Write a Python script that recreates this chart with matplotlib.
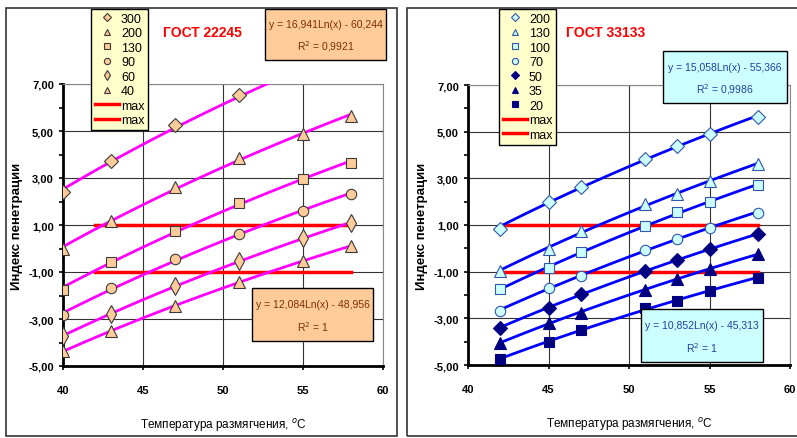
import numpy as np
import matplotlib
matplotlib.use('Agg')
from matplotlib import pyplot as plt
from matplotlib import patches
from matplotlib.lines import Line2D
from matplotlib.ticker import FuncFormatter, FixedLocator

plt.rcParams['font.family'] = ['Liberation Sans', 'DejaVu Sans']

# --- left chart (GOST 22245) ---
left_x = [40, 43, 47, 51, 55, 58]
left_labels = ['300', '200', '130', '90', '60', '40']
left_300 = [2.40, 3.74, 5.26, 6.53, 7.60, 8.50]
left_200 = [0.00, 1.18, 2.60, 3.84, 4.87, 5.65]
left_130 = [-1.75, -0.56, 0.76, 1.94, 2.96, 3.64]
left_90 = [-2.83, -1.69, -0.45, 0.62, 1.61, 2.32]
left_60 = [-3.71, -2.79, -1.61, -0.52, 0.43, 1.09]
left_40 = [-4.38, -3.51, -2.43, -1.44, -0.53, 0.11]
left_max_x = [42, 58]
left_eq_top = ['y = 16,941Ln(x) - 60,244', 'R$^2$ = 0,9921']
left_eq_bot = ['y = 12,084Ln(x) - 48,956', 'R$^2$ = 1']

# --- right chart (GOST 33133) ---
right_x = [42, 45, 47, 51, 53, 55, 58]
right_labels = ['200', '130', '100', '70', '50', '35', '20']
right_200 = [0.85, 1.99, 2.65, 3.85, 4.40, 4.90, 5.61]
right_130 = [-0.97, -0.01, 0.75, 1.89, 2.32, 2.89, 3.61]
right_100 = [-1.76, -0.83, -0.15, 0.96, 1.54, 1.99, 2.71]
right_70 = [-2.69, -1.68, -1.18, -0.07, 0.42, 0.89, 1.51]
right_50 = [-3.40, -2.54, -1.97, -0.97, -0.50, -0.04, 0.61]
right_35 = [-4.04, -3.21, -2.76, -1.78, -1.30, -0.87, -0.25]
right_20 = [-4.73, -4.02, -3.50, -2.54, -2.26, -1.83, -1.25]
right_max_x = [42, 58]
right_eq_top = ['y = 15,058Ln(x) - 55,366', 'R$^2$ = 0,9986']
right_eq_bot = ['y = 10,852Ln(x) - 45,313', 'R$^2$ = 1']

limits = [1, -1]
y_major = [-5, -3, -1, 1, 3, 5, 7]
y_minor = [-4, -2, 0, 2, 4, 6]
x_major = [40, 45, 50, 55, 60]

W, H = 797, 439
fig = plt.figure(figsize=(W / 100, H / 100), dpi=100)


def px_rect(x0, y0, x1, y1):
    return (x0 / W, 1 - y1 / H, (x1 - x0) / W, (y1 - y0) / H)


def comma(v, pos):
    return ('%.2f' % v).replace('.', ',')


def setup_axes(ax):
    ax.set_xlim(40, 60)
    ax.set_ylim(-5, 7)
    ax.xaxis.set_major_locator(FixedLocator(x_major))
    ax.yaxis.set_major_locator(FixedLocator(y_major))
    ax.yaxis.set_minor_locator(FixedLocator(y_minor))
    ax.yaxis.set_major_formatter(FuncFormatter(comma))
    ax.grid(True, which='major', color='#333333', lw=0.8)
    ax.set_axisbelow(True)
    for s in ('top', 'right'):
        ax.spines[s].set_color('#888888')
        ax.spines[s].set_linewidth(0.8)
    for s in ('left', 'bottom'):
        ax.spines[s].set_color('black')
        ax.spines[s].set_linewidth(2)
    ax.tick_params(axis='both', which='both', direction='out', length=3, width=1.2,
                   labelsize=8, colors='black')
    ax.tick_params(axis='x', pad=11)
    for lab in ax.get_xticklabels() + ax.get_yticklabels():
        lab.set_fontweight('bold')
    ax.set_xlabel('Температура размягчения, $^o$C', fontsize=8.5, labelpad=15)
    ax.set_ylabel('Индекс пенетрации', fontsize=9.5, fontweight='bold', labelpad=4)


def draw(ax, xs, series, styles, line_color):
    handles = []
    xfit = np.linspace(min(xs), max(xs), 100)
    for ys in series:
        k, b = np.polyfit(np.log(xs), ys, 1)
        ax.plot(xfit, k * np.log(xfit) + b, color=line_color, lw=2, zorder=3)
    for ys, st in zip(series, styles):
        h, = ax.plot(xs, ys, ls='none', zorder=4, **st)
        handles.append(h)
    return handles


def make_legend(ax, handles, labels, x0, y0):
    red = Line2D([], [], color='#FF0000', lw=2.5)
    leg = ax.legend(handles + [red, red], labels + ['max', 'max'],
                    loc='upper left', bbox_to_anchor=(x0 / W, 1 - y0 / H),
                    bbox_transform=fig.transFigure, fontsize=9, markerscale=0.6,
                    handlelength=1.9, handletextpad=0.2, labelspacing=0.2,
                    borderpad=0.3, borderaxespad=0, frameon=True, fancybox=False)
    leg.get_frame().set_facecolor('#FFFFCC')
    leg.get_frame().set_edgecolor('black')
    leg.get_frame().set_alpha(1)
    leg.get_frame().set_linewidth(1)
    leg.set_zorder(10)
    return leg


# left panel
fig.patches.append(patches.Rectangle(px_rect(6, 9, 397, 437)[:2], 391 / W, 428 / H,
                                     transform=fig.transFigure, fill=False,
                                     edgecolor='#333333', lw=1.2))
axl = fig.add_axes(px_rect(63, 85, 383, 367))
setup_axes(axl)
tan = '#FFCC99'
ed = '#3a3a3a'
lstyles = [
    dict(marker='D', ms=7, mfc=tan, mec=ed, mew=0.8),
    dict(marker='^', ms=8, mfc=tan, mec=ed, mew=0.8),
    dict(marker='s', ms=7, mfc=tan, mec=ed, mew=0.8),
    dict(marker='o', ms=7.5, mfc=tan, mec=ed, mew=0.8),
    dict(marker='d', ms=9, mfc=tan, mec=ed, mew=0.8),
    dict(marker='^', ms=8, mfc=tan, mec=ed, mew=0.8),
]
lh = draw(axl, left_x, [left_300, left_200, left_130, left_90, left_60, left_40],
          lstyles, '#FF00FF')
for yv in limits:
    axl.plot(left_max_x, [yv, yv], color='#FF0000', lw=2.5, zorder=2.5)
make_legend(axl, lh, left_labels, 91, 10)
fig.text(202 / W, 1 - 33 / H, 'ГОСТ 22245', color='#FF0000', fontsize=10,
         fontweight='bold', ha='center', va='center')

# right panel
fig.patches.append(patches.Rectangle(px_rect(407, 9, 810, 437)[:2], 403 / W, 428 / H,
                                     transform=fig.transFigure, fill=False,
                                     edgecolor='#333333', lw=1.2))
axr = fig.add_axes(px_rect(468, 86, 790, 366))
setup_axes(axr)
cyan = '#CCFFFF'
ced = '#3355AA'
navy = '#000080'
rstyles = [
    dict(marker='D', ms=7, mfc=cyan, mec=ced, mew=0.8),
    dict(marker='^', ms=8, mfc=cyan, mec=ced, mew=0.8),
    dict(marker='s', ms=7, mfc=cyan, mec=ced, mew=0.8),
    dict(marker='o', ms=7.5, mfc=cyan, mec=ced, mew=0.8),
    dict(marker='D', ms=7, mfc=navy, mec=navy, mew=0.8),
    dict(marker='^', ms=8, mfc=navy, mec=navy, mew=0.8),
    dict(marker='s', ms=7, mfc=navy, mec=navy, mew=0.8),
]
rh = draw(axr, right_x, [right_200, right_130, right_100, right_70, right_50,
                         right_35, right_20], rstyles, '#0000FF')
for yv in limits:
    axr.plot(right_max_x, [yv, yv], color='#FF0000', lw=2.5, zorder=2.5)
make_legend(axr, rh, right_labels, 499, 10)
fig.text(606 / W, 1 - 33 / H, 'ГОСТ 33133', color='#FF0000', fontsize=10,
         fontweight='bold', ha='center', va='center')


def eq_box(x0, y0, x1, y1, lines, face, tcolor):
    r = px_rect(x0, y0, x1, y1)
    fig.patches.append(patches.Rectangle(r[:2], r[2], r[3], transform=fig.transFigure,
                                         facecolor=face, edgecolor='black', lw=1,
                                         zorder=10))
    cx = (x0 + x1) / 2 / W
    h = y1 - y0
    fig.text(cx, 1 - (y0 + h * 0.3) / H, lines[0], ha='center', va='center',
             fontsize=7.5, color=tcolor, zorder=11)
    fig.text(cx, 1 - (y0 + h * 0.72) / H, lines[1], ha='center', va='center',
             fontsize=7.5, color=tcolor, zorder=11)


eq_box(265, 10, 386, 61, left_eq_top, '#FFCC99', '#7a2e00')
eq_box(252, 289, 373, 342, left_eq_bot, '#FFCC99', '#7a2e00')
eq_box(663, 52, 787, 104, right_eq_top, '#CCFFFF', '#1f3fa0')
eq_box(641, 310, 763, 363, right_eq_bot, '#CCFFFF', '#1f3fa0')

fig.savefig('out.png', dpi=100)
